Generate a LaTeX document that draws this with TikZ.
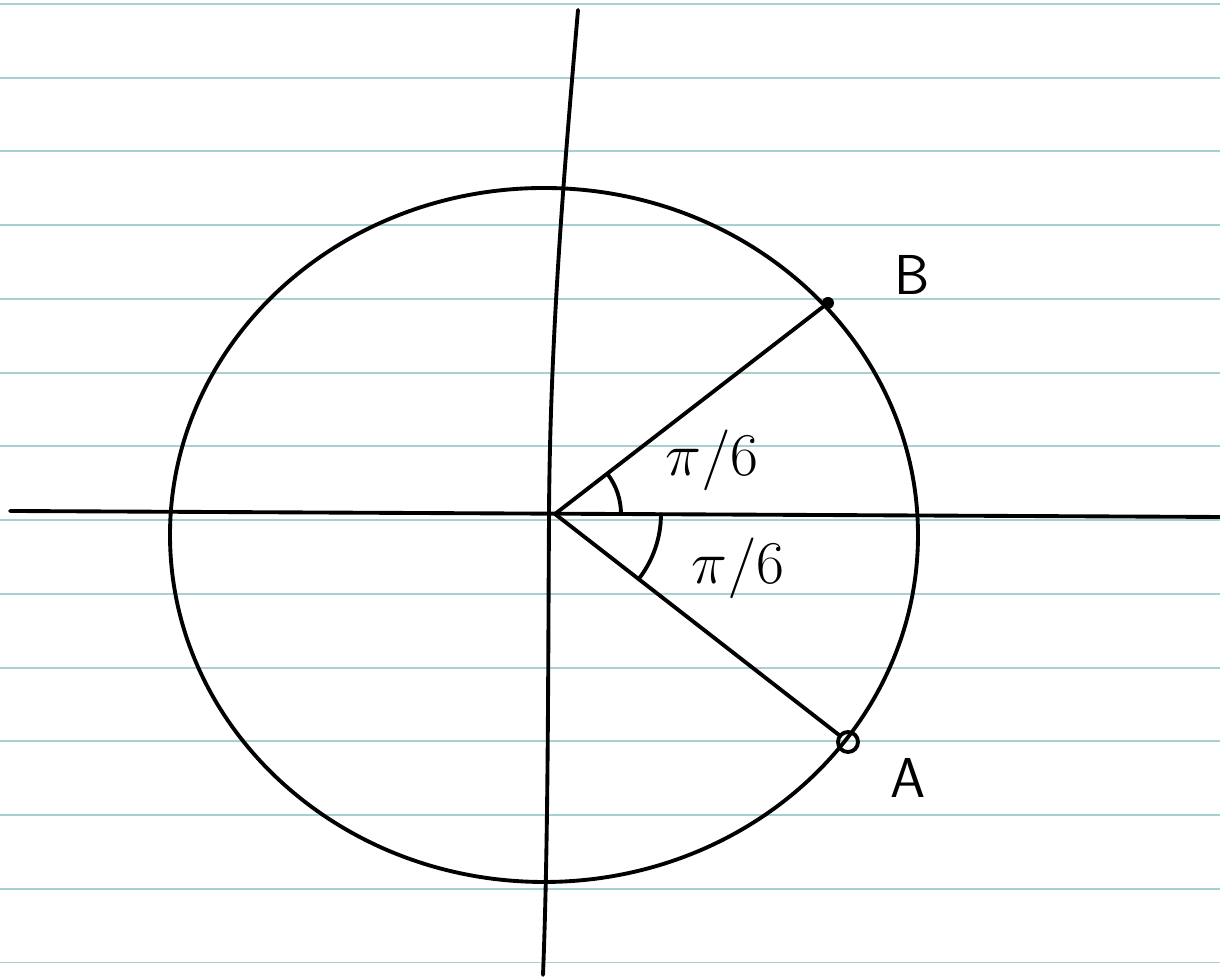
\documentclass[tikz,border=0pt]{standalone}
\usepackage{tikz}
\usetikzlibrary{positioning,calc}
\definecolor{PaperLine}{RGB}{168,208,208}

\begin{document}
\begin{tikzpicture}[
    x=0.01cm, y=-0.01cm,
    pen/.style={line width=1.1pt, line cap=round, line join=round, color=black},
    rule/.style={line width=0.55pt, color=PaperLine},
    lbl/.style={font=\sffamily\fontsize{16}{19}\selectfont, inner sep=1pt},
    dotpt/.style={circle, fill=black, inner sep=0pt, minimum size=0.12cm},
    ringpt/.style={circle, draw=black, line width=1.1pt, inner sep=0pt, minimum size=0.2cm},
]
\useasboundingbox (0,0) rectangle (1220,977);

% ── Paper rules ──
\foreach \i in {0,...,13}
    \draw[rule] (0,{4+73.73*\i}) -- (1220,{4+73.73*\i});

% ── Axes ──
\coordinate (xleft)  at (10,511);
\coordinate (xright) at (1220,517);
\coordinate (ytop)   at (578,10);
\coordinate (ybot)   at (543,975);
\coordinate (O)      at (555,514);

\draw[pen] (xleft) -- (xright);
\draw[pen] (ytop) .. controls (566,150) and (550,330) .. (549,515)
                  .. controls (548,700) and (548,850) .. (ybot);

% ── Circle ──
\draw[pen] (544,535) ellipse [x radius=374, y radius=347];

% ── Points on the circle ──
\node[dotpt]  (B) at (828,303) {};
\node[ringpt] (A) at (848,742) {};

\node[lbl, above right=0cm and 0.58cm of B] (labB) {B};
\node[lbl, below right=0.04cm and 0.3cm of A] (labA) {A};

% ── Radii ──
\draw[pen] (O) -- (B);
\draw[pen] (O) -- (A);

% ── Angle marks ──
\draw[pen] ([shift={(-37.7:66)}]O) arc[start angle=-37.7, end angle=0, radius=66];
\draw[pen] ([shift={(0:106)}]O) arc[start angle=0, end angle=37.5, radius=106];

\node[lbl] (angB) at (712,460) {$\pi/6$};
\node[lbl] (angA) at (738,568) {$\pi/6$};

\end{tikzpicture}
\end{document}
